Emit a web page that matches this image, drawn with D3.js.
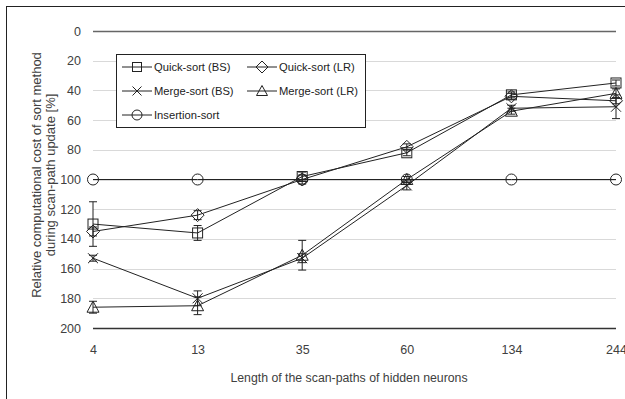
<!DOCTYPE html>
<html>
<head>
<meta charset="utf-8">
<script src="https://cdn.jsdelivr.net/npm/d3@7"></script>
<style>
  body { margin: 0; background: #fff; }
  svg { display: block; }
  .tick text { font-family: "Liberation Sans", Arial, sans-serif; font-size: 12.5px; fill: #404040; }
  .aText { font-family: "Liberation Sans", Arial, sans-serif; font-size: 12.3px; fill: #404040; }
  .legText { font-family: "Liberation Sans", Arial, sans-serif; font-size: 11.2px; fill: #222; }
</style>
</head>
<body>
<div id="chart"></div>
<script>
// scan-path lengths (categories)
var lengths = ["4", "13", "35", "60", "134", "244"];
var yTicks = [0, 20, 40, 60, 80, 100, 120, 140, 160, 180, 200];

// relative cost [%] per method
var quickBS = [130, 136, 98, 82, 43, 35];
var quickLR = [135, 124, 100, 78, 44, 47];
var mergeBS = [153, 180, 153, 104, 52, 51];
var mergeLR = [186, 185, 151, 100, 54, 42];
var insertion = [100, 100, 100, 100, 100, 100];

// error bar half-widths
var quickBSErr = [15, 5, 3, 2, 2, 2];
var quickLRErr = [3, 3, 3, 2, 2, 2];
var mergeBSErr = [2, 5, 3, 3, 2, 8];
var mergeLRErr = [4, 6, 10, 2, 2, 3];

var seriesNames = ["Quick-sort (BS)", "Quick-sort (LR)", "Merge-sort (BS)", "Merge-sort (LR)", "Insertion-sort"];
var seriesVals = [quickBS, quickLR, mergeBS, mergeLR, insertion];
var seriesErr = [quickBSErr, quickLRErr, mergeBSErr, mergeLRErr, null];
var seriesSym = ["square", "diamond", "cross", "triangle", "circle"];

var svgWidth = 625, svgHeight = 399;
var margin = {top: 31, right: 9, bottom: 71, left: 93};
var chartWidth = svgWidth - margin.left - margin.right;
var chartHeight = svgHeight - margin.top - margin.bottom;

var svg = d3.select("#chart").append("svg")
  .attr("width", svgWidth)
  .attr("height", svgHeight);

// outer frame
svg.append("rect")
  .attr("x", 6.5).attr("y", 6.5)
  .attr("width", 640).attr("height", 420)
  .attr("fill", "none").attr("stroke", "#222").attr("stroke-width", 1);

var chartGroup = svg.append("g")
  .attr("transform", `translate(${margin.left}, ${margin.top})`);

var x = d3.scalePoint().domain(lengths).range([0, chartWidth]);
var y = d3.scaleLinear().domain([0, 200]).range([0, chartHeight]);

// gridlines
chartGroup.append("g")
  .selectAll("line")
  .data(yTicks)
  .enter()
  .append("line")
  .attr("x1", 0).attr("x2", chartWidth)
  .attr("y1", d => Math.round(y(d)) + 0.5).attr("y2", d => Math.round(y(d)) + 0.5)
  .attr("stroke", d => d == 200 ? "#333" : (d == 0 ? "#666" : "#d9d9d9"))
  .attr("stroke-width", d => (d == 0 || d == 200) ? 1.3 : 1);

// y axis labels
var yAxis = d3.axisLeft(y).tickValues(yTicks).tickSize(0).tickPadding(12);
chartGroup.append("g").call(yAxis).call(g => g.select(".domain").remove());

// x axis labels
var xAxis = d3.axisBottom(x).tickSize(0).tickPadding(17);
chartGroup.append("g")
  .attr("transform", `translate(0, ${chartHeight})`)
  .call(xAxis)
  .call(g => g.select(".domain").remove());

// symbols
function drawSymbol(g, type, cx, cy, s) {
  if (type == "square") {
    g.append("rect").attr("x", cx - s).attr("y", cy - s).attr("width", 2 * s).attr("height", 2 * s)
      .attr("fill", "none").attr("stroke", "#222");
  } else if (type == "diamond") {
    g.append("path").attr("d", `M${cx},${cy - s - 1.5}L${cx + s + 1.5},${cy}L${cx},${cy + s + 1.5}L${cx - s - 1.5},${cy}Z`)
      .attr("fill", "none").attr("stroke", "#222");
  } else if (type == "cross") {
    g.append("path").attr("d", `M${cx - s},${cy - s}L${cx + s},${cy + s}M${cx - s},${cy + s}L${cx + s},${cy - s}`)
      .attr("fill", "none").attr("stroke", "#222");
  } else if (type == "triangle") {
    g.append("path").attr("d", `M${cx},${cy - s - 1}L${cx + s + 1},${cy + s}L${cx - s - 1},${cy + s}Z`)
      .attr("fill", "none").attr("stroke", "#222");
  } else {
    g.append("circle").attr("cx", cx).attr("cy", cy).attr("r", s + 0.5)
      .attr("fill", "none").attr("stroke", "#222");
  }
}

var line = d3.line().x((d, i) => x(lengths[i])).y(d => y(d));

seriesVals.forEach(function(vals, k) {
  var g = chartGroup.append("g");
  g.append("path")
    .attr("d", line(vals))
    .attr("fill", "none")
    .attr("stroke", "#222")
    .attr("stroke-width", 1);
  // error bars
  if (seriesErr[k]) {
    seriesErr[k].forEach(function(e, i) {
      var cx = x(lengths[i]);
      g.append("path")
        .attr("d", `M${cx},${y(vals[i] - e)}V${y(vals[i] + e)}M${cx - 4},${y(vals[i] - e)}H${cx + 4}M${cx - 4},${y(vals[i] + e)}H${cx + 4}`)
        .attr("fill", "none").attr("stroke", "#222").attr("stroke-width", 1);
    });
  }
  vals.forEach(function(v, i) {
    drawSymbol(g, seriesSym[k], x(lengths[i]), y(v), 5);
  });
});

// legend
var legend = svg.append("g");
legend.append("rect")
  .attr("x", 116.5).attr("y", 54.5).attr("width", 249).attr("height", 73)
  .attr("fill", "#fff").attr("stroke", "#222");

seriesNames.forEach(function(name, k) {
  var col = k % 2, row = Math.floor(k / 2);
  var lx = col == 0 ? 122 : 247;
  var ly = 67 + row * 24;
  var lg = legend.append("g");
  lg.append("line").attr("x1", lx).attr("x2", lx + 30).attr("y1", ly).attr("y2", ly)
    .attr("stroke", "#222");
  drawSymbol(lg, seriesSym[k], lx + 15, ly, 4.5);
  lg.append("text").attr("class", "legText")
    .attr("x", lx + 32).attr("y", ly).attr("dy", "0.35em")
    .text(name);
});

// x axis title
svg.append("text")
  .attr("class", "aText")
  .attr("text-anchor", "middle")
  .attr("x", 349).attr("y", 382)
  .text("Length of the scan-paths of hidden neurons");

// y axis title
var yt = svg.append("text")
  .attr("class", "aText")
  .attr("text-anchor", "middle")
  .style("font-size", "13px")
  .attr("transform", "translate(0,175) rotate(-90)");
yt.append("tspan").attr("x", 0).attr("y", 41).text("Relative computational cost of sort method");
yt.append("tspan").attr("x", 0).attr("y", 55).text("during scan-path update [%]");
</script>
</body>
</html>
